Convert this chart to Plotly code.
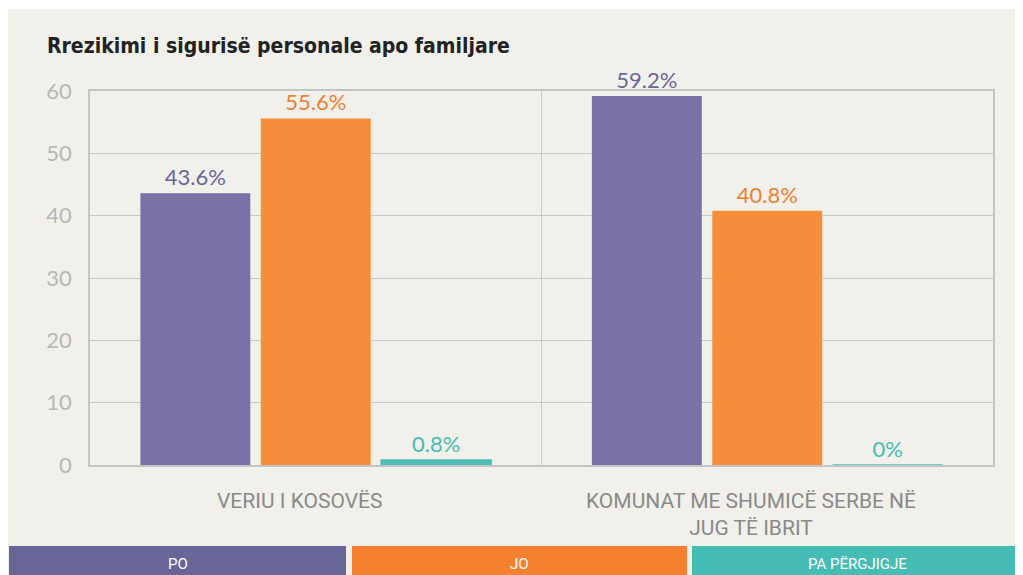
import plotly.graph_objects as go

categories = ["VERIU I KOSOVËS", "KOMUNAT ME SHUMICË SERBE NË<br>JUG TË IBRIT"]
series_names = ["PO", "JO", "PA PËRGJIGJE"]
po_values = [43.6, 59.2]
jo_values = [55.6, 40.8]
pa_values = [0.8, 0.0]
y_ticks = [0, 10, 20, 30, 40, 50, 60]

bar_colors = ["#7872a6", "#f58d3a", "#4fbfb4"]
text_colors = ["#6a6699", "#ef7f33", "#46bdb4"]
legend_colors = ["#686699", "#f58130", "#45bdb5"]
bg = "#f1f0eb"

OFF = 8  # page body margin
W, H = 1023 - OFF, 575 - OFF
L, T = 90 - OFF, 91 - OFF
R, B = W - (993 - OFF), H - (465 - OFF)
pw, ph = W - L - R, H - T - B


def px_x(x):
    return (x - OFF - L) / pw


def px_y(y):
    return (H - B - (y - OFF)) / ph


fig = go.Figure()
for name, vals, bc, tc in zip(series_names, [po_values, jo_values, pa_values], bar_colors, text_colors):
    fig.add_trace(go.Bar(
        x=categories, y=vals, name=name,
        marker=dict(color=bc, line=dict(color=bc, width=1.5 if name == "PA PËRGJIGJE" else 0)),
        texttemplate="%{y}%", textposition="outside", cliponaxis=False,
        textfont=dict(family="Lato, Open Sans, sans-serif", size=22, color=tc),
        showlegend=False,
    ))

shapes = [dict(type="rect", xref="paper", yref="paper", x0=px_x(6), x1=px_x(1023),
               y0=px_y(575), y1=px_y(9), fillcolor=bg, line=dict(width=0), layer="below")]
annotations = []
blocks = [(9, 346), (352, 687), (692, 1023)]
for (a, b), col, name in zip(blocks, legend_colors, series_names):
    shapes.append(dict(type="rect", xref="paper", yref="paper", x0=px_x(a), x1=px_x(b),
                       y0=px_y(576), y1=px_y(546), fillcolor=col, line=dict(width=0)))
    annotations.append(dict(xref="paper", yref="paper", x=px_x((a + b) / 2), y=px_y(564),
                            text=name, showarrow=False, xanchor="center", yanchor="middle",
                            font=dict(family="Roboto, sans-serif", size=15, color="white")))

# category labels (slightly left of group centre, as in the reference)
for cat in categories:
    annotations.append(dict(xref="x", yref="paper", x=cat, y=px_y(487), xshift=-16,
                            text=cat, showarrow=False, xanchor="center", yanchor="top",
                            font=dict(family="Roboto, sans-serif", size=21, color="#8a8a8a")))

fig.update_layout(
    width=W, height=H,
    margin=dict(l=L, r=R, t=T, b=B),
    paper_bgcolor="white", plot_bgcolor="rgba(0,0,0,0)",
    barmode="group", bargap=0.2, bargroupgap=0.087,
    title=dict(text="<b>Rrezikimi i sigurisë personale apo familjare</b>",
               xref="container", x=(47 - OFF) / W, xanchor="left",
               yref="container", y=1 - (46 - OFF) / H, yanchor="middle",
               font=dict(family="DejaVu Sans Condensed, DejaVu Sans, sans-serif", size=21, color="#222222")),
    shapes=shapes, annotations=annotations,
)
fig.update_yaxes(range=[0, 60], tickvals=y_ticks, showgrid=True, gridcolor="#c9c9c9", gridwidth=1.3,
                 showline=True, mirror=True, linecolor="#c4c4c4", linewidth=1.5,
                 ticks="outside", ticklen=12, tickcolor="rgba(0,0,0,0)", zeroline=False,
                 tickfont=dict(family="Lato, sans-serif", size=22, color="#b8b8b8"))
fig.update_xaxes(tickson="boundaries", showgrid=True, gridcolor="#c9c9c9", gridwidth=1.3,
                 showline=True, mirror=True, linecolor="#c4c4c4", linewidth=1.5,
                 showticklabels=False, ticks="")

fig.write_html("out.html")
